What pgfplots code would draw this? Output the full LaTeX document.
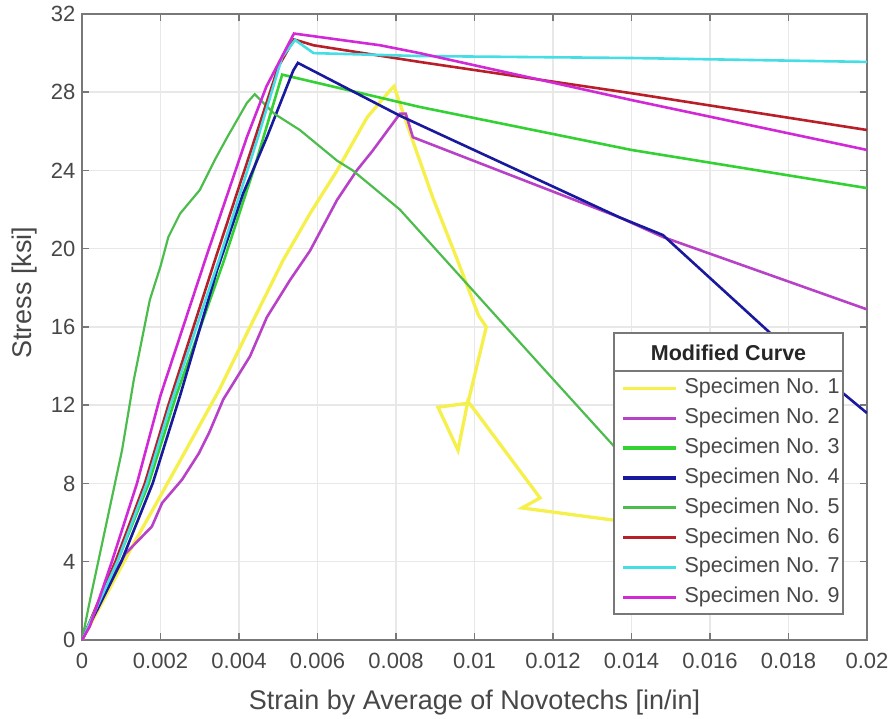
\documentclass[border=0pt]{standalone}
\usepackage{fontspec}
\setmainfont{Liberation Sans}
\usepackage{pgfplots}
\pgfplotsset{compat=1.18}
\definecolor{cA}{rgb}{0.96,0.94,0.30}
\definecolor{cB}{rgb}{0.72,0.26,0.78}
\definecolor{cC}{rgb}{0.20,0.82,0.20}
\definecolor{cD}{rgb}{0.10,0.10,0.62}
\definecolor{cE}{rgb}{0.30,0.74,0.30}
\definecolor{cF}{rgb}{0.72,0.12,0.16}
\definecolor{cG}{rgb}{0.27,0.87,0.90}
\definecolor{cH}{rgb}{0.82,0.16,0.84}
\definecolor{axgray}{rgb}{0.47,0.47,0.47}
\definecolor{txtgray}{rgb}{0.28,0.28,0.28}
\definecolor{gridgray}{rgb}{0.91,0.91,0.91}
\begin{document}
\begin{tikzpicture}
\begin{axis}[
  scale only axis, width=785pt, height=626pt,
  xmin=0, xmax=0.02, ymin=0, ymax=32,
  xtick={0,0.002,0.004,0.006,0.008,0.01,0.012,0.014,0.016,0.018,0.02},
  xticklabels={0,0.002,0.004,0.006,0.008,0.01,0.012,0.014,0.016,0.018,0.02},
  ytick={0,4,8,12,16,20,24,28,32},
  yticklabels={0,4,8,12,16,20,24,28,32},
  scaled x ticks=false,
  /pgf/number format/assume math mode=true,
  grid=major, major grid style={gridgray, line width=1.5pt},
  axis line style={axgray, line width=1.8pt},
  tick style={axgray, line width=1.5pt}, major tick length=7pt, tick align=inside,
  tick label style={font=\fontsize{22}{26}\selectfont, text=txtgray},
  yticklabel style={xshift=-3pt}, xticklabel style={yshift=-10pt},
  xlabel={Strain by Average of Novotechs [in/in]}, ylabel={Stress [ksi]},
  label style={font=\fontsize{27}{31}\selectfont, text=txtgray},
  xlabel style={at={(axis description cs:0.5,-0.1)}, anchor=center},
  ylabel style={at={(axis description cs:-0.0726,0.555)}, anchor=center},
  every axis plot/.append style={line width=2.6pt},
  legend image code/.code={\draw[#1, line width=3.2pt] (0pt,0pt) -- (53pt,0pt);},
  legend cell align=left,
  legend style={draw=none, fill=none, inner sep=0pt, outer sep=0pt,
    at={(rel axis cs:0.6875,0.4177)}, anchor=north west,
    row sep=10.4pt, column sep=6.7pt,
    font=\fontsize{21.5}{25}\selectfont, text=txtgray,
    nodes={inner sep=0pt, text height=15pt, text depth=4.5pt},
    cells={anchor=west}},
]
% Specimen 1
\addplot[cA, line width=3.3pt] coordinates {(0,0) (0.00127,4.75) (0.00212,7.8) (0.00255,9.35) (0.00306,11.2) (0.0035,12.8) (0.00428,16.0) (0.00512,19.4) (0.00581,21.8) (0.0065,24.0) (0.00726,26.7) (0.00785,28.1) (0.00795,28.3) (0.00836,25.9) (0.00894,22.6) (0.00955,19.5) (0.0101,16.6) (0.0103,16.0) (0.00983,12.1) (0.00907,11.9) (0.00958,9.7) (0.00983,12.2) (0.01006,11.6) (0.01167,7.26) (0.01121,6.75) (0.01353,6.13) (0.0139,6.0)};
% Specimen 2
\addplot[cB] coordinates {(0,0) (0.0005,2.2) (0.0011,4.4) (0.00178,5.8) (0.00204,7.0) (0.00255,8.2) (0.00298,9.55) (0.00324,10.6) (0.0036,12.3) (0.00428,14.5) (0.00471,16.5) (0.0053,18.4) (0.00581,19.9) (0.0065,22.5) (0.007,24.0) (0.0074,25.0) (0.0081,26.9) (0.00825,26.9) (0.00843,25.7) (0.0137,21.6) (0.0148,20.6) (0.02,16.9)};
% Specimen 3
\addplot[cC] coordinates {(0,0) (0.0009,4) (0.0017,8) (0.0024,12.5) (0.0036,19.3) (0.0044,24.2) (0.0051,28.9) (0.0086,27.25) (0.014,25.05) (0.02,23.1)};
% Specimen 4
\addplot[cD] coordinates {(0,0) (0.001,4) (0.0018,8) (0.0025,12.5) (0.00344,18.9) (0.0041,22.8) (0.00471,25.7) (0.00538,29.1) (0.0055,29.5) (0.0081,26.8) (0.0137,21.6) (0.0148,20.7) (0.01753,15.7) (0.02,11.6)};
% Specimen 5
\addplot[cE, line width=2.2pt] coordinates {(0,0) (0.0002,2.0) (0.00102,9.7) (0.00132,13.3) (0.00173,17.4) (0.002,19.1) (0.0022,20.6) (0.0025,21.8) (0.003,23.0) (0.0034,24.6) (0.0037,25.7) (0.0042,27.45) (0.0044,27.9) (0.0049,26.9) (0.00555,26.07) (0.0065,24.5) (0.0069,24.0) (0.0081,22.0) (0.00963,18.6) (0.0117,14.0) (0.0136,9.8)};
% Specimen 6
\addplot[cF] coordinates {(0,0) (0.00085,4) (0.0016,8) (0.0022,12) (0.0034,19.5) (0.0044,25.6) (0.005,29.3) (0.0054,30.7) (0.0059,30.4) (0.0086,29.55) (0.014,27.95) (0.02,26.07)};
% Specimen 7
\addplot[cG] coordinates {(0,0) (0.0009,4) (0.00165,8) (0.00225,12) (0.0035,19.5) (0.0045,25.8) (0.0051,29.8) (0.00543,30.67) (0.0059,30.0) (0.0086,29.85) (0.014,29.75) (0.02,29.55)};
% Specimen 9
\addplot[cH] coordinates {(0,0) (0.0002,0.7) (0.00076,4) (0.0014,8) (0.002,12.5) (0.0032,19.8) (0.0042,25.7) (0.0047,28.3) (0.0054,31.0) (0.0076,30.4) (0.0086,30.0) (0.014,27.6) (0.02,25.05)};
\legend{Specimen No. 1,Specimen No. 2,Specimen No. 3,Specimen No. 4,Specimen No. 5,Specimen No. 6,Specimen No. 7,Specimen No. 9}
\draw[draw=axgray, line width=1.8pt, fill=white] (rel axis cs:0.6777,0.04153) rectangle (rel axis cs:0.9694,0.4904);
\draw[axgray, line width=1.8pt] (rel axis cs:0.6777,0.4297) -- (rel axis cs:0.9694,0.4297);
\node[font=\fontsize{21.5}{25}\selectfont\bfseries, text={rgb,1:red,0.15;green,0.15;blue,0.15}] at (rel axis cs:0.8236,0.4589) {Modified Curve};
\end{axis}
\path (-82pt,-79pt) rectangle (811pt,640pt);
\end{tikzpicture}
\end{document}
